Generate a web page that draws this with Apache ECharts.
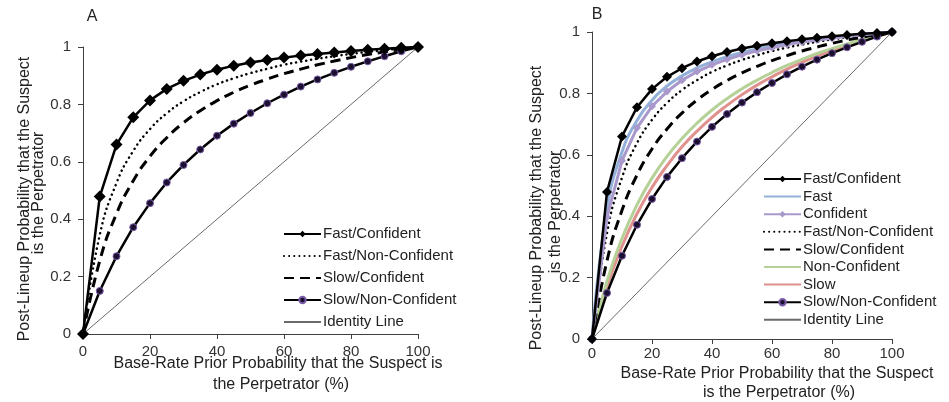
<!DOCTYPE html>
<html>
<head>
<meta charset="utf-8">
<script src="https://cdn.jsdelivr.net/npm/echarts@6/dist/echarts.min.js"></script>
<style>
  html, body { margin: 0; padding: 0; background: #fff; }
  #chart { width: 949px; height: 402px; }
</style>
</head>
<body>
<div id="chart"></div>
<script>
// prior probability (%) on the x axis
const xVals = [0, 5, 10, 15, 20, 25, 30, 35, 40, 45, 50, 55, 60, 65, 70, 75, 80, 85, 90, 95, 100];

// post-lineup probability
const fastConf    = [0, 0.479, 0.660, 0.755, 0.814, 0.854, 0.882, 0.904, 0.921, 0.935, 0.946, 0.955, 0.963, 0.970, 0.976, 0.981, 0.986, 0.990, 0.994, 0.997, 1];
const fastNonConf = [0, 0.345, 0.526, 0.638, 0.714, 0.769, 0.811, 0.843, 0.870, 0.891, 0.909, 0.924, 0.938, 0.949, 0.959, 0.968, 0.976, 0.983, 0.989, 0.995, 1];
const slowConf    = [0, 0.255, 0.419, 0.534, 0.619, 0.684, 0.736, 0.778, 0.813, 0.842, 0.867, 0.888, 0.907, 0.923, 0.938, 0.951, 0.963, 0.974, 0.983, 0.992, 1];
const slowNonConf = [0, 0.150, 0.271, 0.372, 0.456, 0.528, 0.589, 0.643, 0.691, 0.733, 0.770, 0.804, 0.834, 0.862, 0.887, 0.910, 0.931, 0.950, 0.968, 0.985, 1];
const fast        = [0, 0.424, 0.609, 0.712, 0.778, 0.824, 0.857, 0.883, 0.903, 0.920, 0.933, 0.945, 0.955, 0.963, 0.970, 0.977, 0.982, 0.988, 0.992, 0.996, 1];
const confident   = [0, 0.397, 0.581, 0.688, 0.758, 0.806, 0.843, 0.871, 0.893, 0.911, 0.926, 0.939, 0.949, 0.959, 0.967, 0.974, 0.980, 0.986, 0.991, 0.996, 1];
const nonConf     = [0, 0.188, 0.328, 0.437, 0.524, 0.595, 0.653, 0.703, 0.746, 0.783, 0.815, 0.843, 0.868, 0.891, 0.911, 0.930, 0.946, 0.961, 0.975, 0.988, 1];
const slow        = [0, 0.170, 0.302, 0.408, 0.494, 0.565, 0.626, 0.677, 0.722, 0.761, 0.796, 0.827, 0.854, 0.879, 0.901, 0.921, 0.940, 0.957, 0.972, 0.987, 1];
const identityX = [0, 100];
const identityY = [0, 1];

const legendA = ["Fast/Confident", "Fast/Non-Confident", "Slow/Confident", "Slow/Non-Confident", "Identity Line"];
const legendB = ["Fast/Confident", "Fast", "Confident", "Fast/Non-Confident", "Slow/Confident", "Non-Confident", "Slow", "Slow/Non-Confident", "Identity Line"];
// legend entries drawn as a plain line, no marker
const noMarker = ["Fast", "Fast/Non-Confident", "Slow/Confident", "Non-Confident", "Slow", "Identity Line"];

const FONT = "Liberation Sans, Arial, sans-serif";
const pts = (ys) => xVals.map((x, i) => [x, ys[i]]);

function xAxisOf(idx) {
  return {
    type: "value", gridIndex: idx, min: 0, max: 100, interval: 20,
    axisLine: { show: true, lineStyle: { color: "#404040", width: 1 } },
    axisTick: { show: true, length: 5, lineStyle: { color: "#404040" } },
    axisLabel: { color: "#333", fontSize: 15, fontFamily: FONT, margin: idx === 0 ? 10 : 7 },
    splitLine: { show: false }
  };
}
function yAxisOf(idx) {
  return {
    type: "value", gridIndex: idx, min: 0, max: 1, interval: 0.2,
    axisLine: { show: true, lineStyle: { color: "#404040", width: 1 } },
    axisTick: { show: true, length: 5, lineStyle: { color: "#404040" } },
    axisLabel: { color: "#333", fontSize: 15, fontFamily: FONT, margin: 12 },
    splitLine: { show: false }
  };
}

// one set of series per panel
function seriesFor(idx, names) {
  const s = [];
  const add = (o) => s.push(Object.assign({ type: "line", xAxisIndex: idx, yAxisIndex: idx, clip: false, animation: false }, o));
  add({ name: "Identity Line", data: [[identityX[0], identityY[0]], [identityX[1], identityY[1]]],
        showSymbol: false, symbol: "none", z: 1,
        lineStyle: { color: "#6a6a6a", width: 1 }, itemStyle: { color: "#6a6a6a", opacity: 0 } });
  if (names.includes("Slow")) {
    add({ name: "Slow", data: pts(slow), smooth: true, symbol: "none", z: 2,
          lineStyle: { color: "#e0918e", width: 3 }, itemStyle: { color: "#e0918e", opacity: 0 } });
    add({ name: "Non-Confident", data: pts(nonConf), smooth: true, symbol: "none", z: 2,
          lineStyle: { color: "#b5d197", width: 3 }, itemStyle: { color: "#b5d197", opacity: 0 } });
  }
  add({ name: "Slow/Confident", data: pts(slowConf), smooth: true, symbol: "none", z: 3,
        lineStyle: { color: "#000", width: 3, type: [10, 6] }, itemStyle: { color: "#000", opacity: 0 } });
  add({ name: "Fast/Non-Confident", data: pts(fastNonConf), smooth: true, symbol: "none", z: 3,
        lineStyle: { color: "#000", width: 2.5, type: [0.1, 5], cap: "round" }, itemStyle: { color: "#000", opacity: 0 } });
  if (names.includes("Fast")) {
    add({ name: "Fast", data: pts(fast), smooth: true, symbol: "none", z: 3,
          lineStyle: { color: "#93b1d8", width: 3 }, itemStyle: { color: "#93b1d8", opacity: 0 } });
    add({ name: "Confident", data: pts(confident), smooth: false, symbol: "diamond", symbolSize: 8, z: 4,
          lineStyle: { color: "#a898cb", width: 3 }, itemStyle: { color: "#a898cb" } });
  }
  add({ name: "Slow/Non-Confident", data: pts(slowNonConf), symbol: "circle", symbolSize: 7, z: 5,
        lineStyle: { color: "#000", width: 2.5 },
        itemStyle: { color: "#1b1030", borderColor: "#7a5ca8", borderWidth: 1 } });
  add({ name: "Fast/Confident", data: pts(fastConf), symbol: "diamond", symbolSize: idx === 0 ? 12 : 10, z: 6,
        lineStyle: { color: "#000", width: 2.5 }, itemStyle: { color: "#000" } });
  return s;
}

function legendOf(names, left, top, gap) {
  return {
    data: names.map((n) => noMarker.includes(n) ? { name: n, itemStyle: { opacity: 0 } } : { name: n }),
    orient: "vertical", left: left, top: top, padding: 0,
    itemWidth: 37, itemHeight: 8, itemGap: gap, selectedMode: false,
    textStyle: { fontSize: 15, fontFamily: FONT, color: "#222", lineHeight: 16, padding: [0, 0, 0, -3] }
  };
}

function label(text, x, y, rot, size) {
  return {
    type: "text", x: x, y: y, rotation: rot || 0,
    style: { text: text, fontSize: size || 16, fontFamily: FONT, fill: "#222",
             align: "center", verticalAlign: "middle" }
  };
}

const chart = echarts.init(document.getElementById("chart"), null, { renderer: "canvas" });
chart.setOption({
  animation: false,
  backgroundColor: "#fff",
  grid: [
    { left: 83, top: 47, width: 335, height: 287 },
    { left: 592, top: 32, width: 300, height: 307 }
  ],
  xAxis: [xAxisOf(0), xAxisOf(1)],
  yAxis: [yAxisOf(0), yAxisOf(1)],
  legend: [legendOf(legendA, 283, 226, 6), legendOf(legendB, 763, 171, 1.6)],
  series: seriesFor(0, legendA).concat(seriesFor(1, legendB)),
  graphic: [
    label("A", 92, 17),
    label("B", 597, 15),
    label("Post-Lineup Probability that the Suspect", 25, 199, Math.PI / 2),
    label("is the Perpetrator", 39, 193, Math.PI / 2),
    label("Base-Rate Prior Probability that the Suspect is", 278, 364),
    label("the Perpetrator (%)", 281, 385),
    label("Post-Lineup Probability that the Suspect", 537, 208, Math.PI / 2),
    label("is the Perpetrator", 556, 212, Math.PI / 2),
    label("Base-Rate Prior Probability that the Suspect", 777, 374),
    label("is the Perpetrator (%)", 779, 393)
  ]
});
</script>
</body>
</html>
